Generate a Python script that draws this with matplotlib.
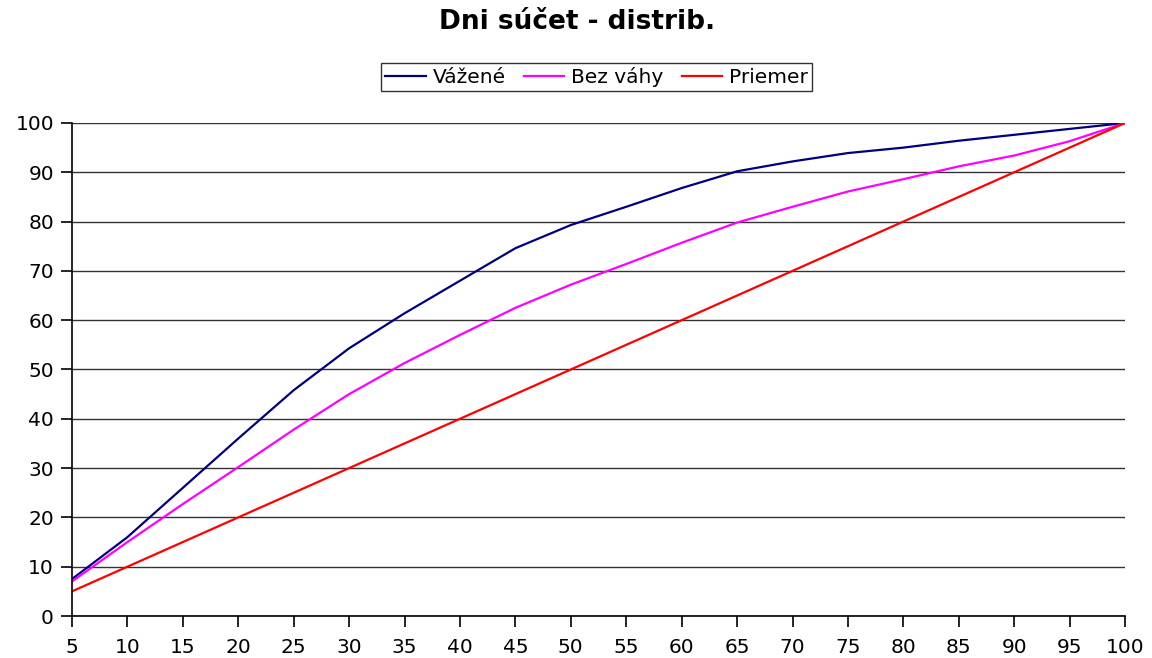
import numpy as np
import matplotlib.pyplot as plt

plt.rcParams['font.family'] = ['DejaVu Sans']

x_vals = [5, 10, 15, 20, 25, 30, 35, 40, 45, 50,
          55, 60, 65, 70, 75, 80, 85, 90, 95, 100]
vazene = [7.5, 16, 26, 36, 45.8, 54.3, 61.4, 68, 74.6, 79.3,
          83, 86.8, 90.2, 92.2, 93.9, 95, 96.4, 97.6, 98.8, 100]
bez_vahy = [7, 15, 22.7, 30.2, 37.8, 45, 51.3, 57, 62.5, 67.2,
            71.4, 75.7, 79.8, 83, 86.1, 88.6, 91.2, 93.4, 96.3, 100]
priemer = [5, 10, 15, 20, 25, 30, 35, 40, 45, 50,
           55, 60, 65, 70, 75, 80, 85, 90, 95, 100]

fig = plt.figure(figsize=(11.52, 6.58), dpi=100)
ax = fig.add_axes([0.0625, 0.0638, 0.9141, 0.7493])

ax.plot(x_vals, vazene, color='#000080', lw=1.6, label='Vážené')
ax.plot(x_vals, bez_vahy, color='#FF00FF', lw=1.6, label='Bez váhy')
ax.plot(x_vals, priemer, color='#FF0000', lw=1.6, label='Priemer')

ax.set_xlim(5, 100)
ax.set_ylim(0, 100)
ax.set_xticks(np.arange(5, 101, 5))
ax.set_yticks(np.arange(0, 101, 10))
ax.yaxis.grid(True, color='#333333', lw=1.0)
ax.set_axisbelow(True)
for s in ['top', 'right']:
    ax.spines[s].set_visible(False)
for s in ['left', 'bottom']:
    ax.spines[s].set_color('black')
    ax.spines[s].set_linewidth(1.2)
ax.tick_params(axis='both', direction='out', length=8, width=1.2,
               labelsize=14.5, colors='black')
ax.tick_params(axis='x', pad=8)
ax.tick_params(axis='y', pad=5)

fig.text(0.501, 0.966, 'Dni súčet - distrib.', ha='center', va='center',
         fontsize=19, fontweight='bold')

leg = fig.legend(loc='center', bbox_to_anchor=(0.518, 0.883), ncol=3,
                 frameon=True, fancybox=False, fontsize=14.5,
                 handlelength=2.0, handletextpad=0.35, columnspacing=0.9,
                 borderpad=0.2)
leg.get_frame().set_edgecolor('black')
leg.get_frame().set_linewidth(1.0)

fig.savefig('out.png', dpi=100)
